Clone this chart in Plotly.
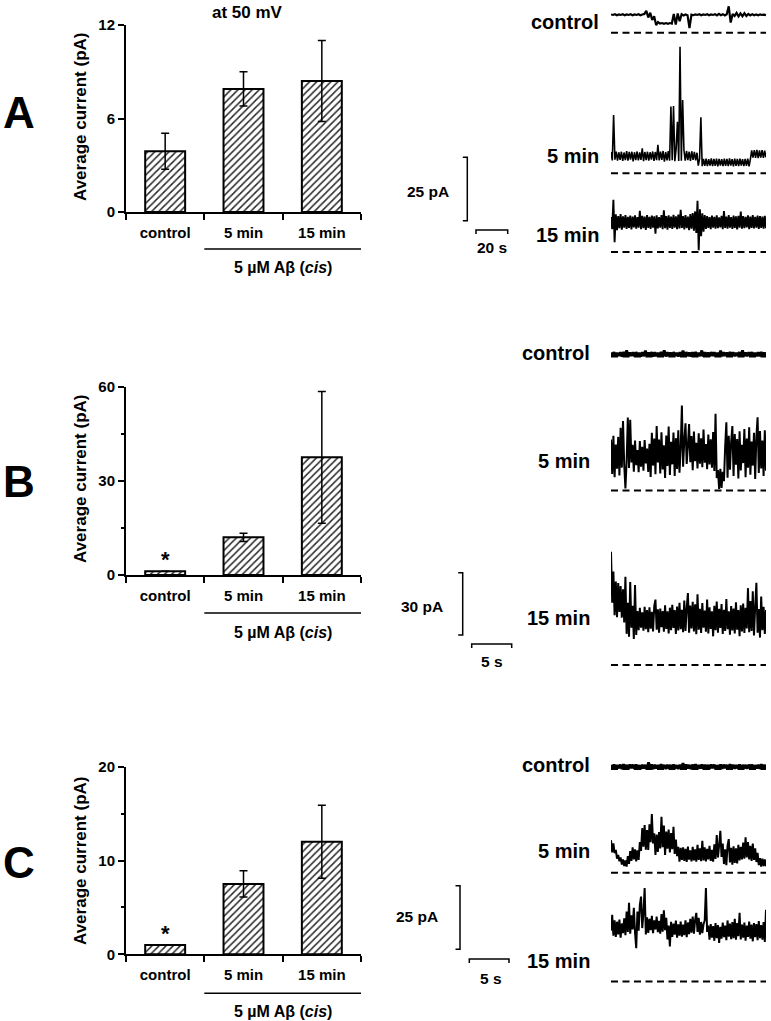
import numpy as np
import plotly.graph_objects as go

W, H = 771, 1021
FONT = "Liberation Sans, Arial, sans-serif"

# ---------------- bar chart data ----------------
categories = ["control", "5 min", "15 min"]
A_mean = [3.9, 7.9, 8.4]
A_err = [1.15, 1.1, 2.6]
B_mean = [1.2, 12.0, 37.5]
B_err = [None, 1.3, 21.0]
C_mean = [1.0, 7.5, 12.0]
C_err = [None, 1.4, 3.9]
A_ticks = [0, 6, 12]
B_ticks = [0, 30, 60]
B_minor = [15, 45]
C_ticks = [0, 10, 20]
C_minor = [5, 15]

# ---------------- current traces (pA) ----------------
A_control = [7.2, 7.0, 7.3, 6.9, 7.2, 7.0, 7.3, 6.9, 7.2, 7.0,
             7.3, 6.9, 7.2, 7.0, 7.3, 6.9, 7.2, 7.4, 8.6, 6.0,
             7.9, 5.0, 6.5, 3.0, 4.2, 3.6, 3.8, 3.5, 3.8, 3.5,
             3.8, 3.6, 7.4, 3.2, 7.6, 4.5, 7.3, 6.8, 7.2, 6.9,
             1.8, 7.1, 6.9, 7.2, 7.0, 7.3, 6.9, 7.2, 7.0, 7.3,
             6.9, 7.2, 7.0, 7.3, 6.8, 7.4, 6.9, 7.3, 6.8, 7.3,
             10.4, 4.0, 7.4, 6.6, 7.8, 6.4, 7.6, 6.5, 7.7, 6.6,
             7.4, 6.8, 7.3, 6.9, 7.2, 6.9, 7.2, 7.0, 7.1, 6.9]
A_5min = [8.4, 5.1, 23.0, 5.4, 8.6, 5.0, 8.3, 5.3, 8.5, 4.9,
          8.2, 5.2, 8.7, 5.0, 8.4, 5.4, 8.5, 4.7, 8.3, 5.2,
          8.6, 5.1, 8.2, 5.3, 9.8, 4.8, 8.4, 5.2, 8.5, 5.0,
          8.3, 5.4, 8.6, 4.9, 8.4, 5.2, 11.2, 5.1, 8.5, 5.3,
          8.8, 4.6, 8.4, 5.1, 8.7, 5.0, 26.3, 5.2, 26.5, 4.8,
          9.7, 20.3, 4.9, 49.9, 5.0, 28.9, 9.2, 5.0, 8.8, 5.2,
          8.5, 4.9, 8.7, 5.3, 8.4, 5.1, 8.1, 3.0, 5.8, 22.1,
          2.8, 5.7, 2.9, 5.8, 2.8, 5.6, 3.0, 5.9, 2.8, 5.7,
          2.9, 5.8, 2.7, 5.7, 3.0, 5.6, 2.8, 5.8, 2.9, 5.7,
          2.8, 5.9, 3.0, 5.6, 2.7, 5.8, 2.9, 5.7, 2.8, 5.8,
          3.0, 5.6, 2.8, 5.7, 2.9, 5.8, 2.7, 5.5, 9.0, 6.2,
          9.1, 6.1, 9.2, 6.0, 9.0, 6.2, 9.1, 6.1, 8.9, 6.3]
A_15min = [13.8, 9.0, 20.6, 3.9, 14.9, 8.6, 14.2, 9.4, 15.0, 8.8,
           14.1, 9.6, 14.6, 9.1, 13.9, 9.5, 14.4, 8.9, 14.0, 9.7,
           14.5, 9.2, 13.8, 9.6, 16.2, 9.0, 14.3, 9.4, 14.0, 8.7,
           14.6, 9.5, 13.9, 9.1, 14.4, 9.6, 14.1, 7.2, 14.5, 9.3,
           13.8, 9.6, 14.6, 9.0, 16.4, 9.4, 14.2, 8.8, 14.5, 9.5,
           14.0, 9.1, 14.7, 9.6, 14.1, 9.0, 14.8, 9.3, 16.6, 9.5,
           14.2, 8.9, 14.6, 9.4, 14.0, 8.6, 15.0, 9.2, 15.4, 8.4,
           16.0, 7.5, 20.2, 0.7, 16.8, 6.2, 15.3, 8.0, 14.6, 9.1,
           14.2, 9.5, 13.8, 9.0, 14.4, 9.6, 13.9, 9.2, 14.5, 9.4,
           13.7, 9.7, 14.3, 9.0, 16.1, 9.5, 14.0, 9.2, 14.6, 9.6,
           13.8, 9.1, 14.4, 9.5, 14.1, 8.9, 14.3, 9.6, 15.9, 9.2,
           14.2, 9.4, 13.9, 9.7, 14.5, 9.0, 14.0, 9.5, 14.6, 9.3,
           13.9, 9.6, 14.4, 9.1, 14.2, 9.5, 14.0, 9.2, 14.3, 9.4]

B_control = [1.9, 0.2, 2.1, 0.1, 1.8, 0.3, 2.0, 0.0, 2.2, 0.2,
             2.9, 0.1, 1.9, 0.3, 2.0, 0.1, 2.1, 0.2, 1.8, 0.0,
             2.0, 0.2, 2.8, 0.1, 1.9, 0.3, 2.1, 0.0, 2.0, 0.2,
             1.8, 0.1, 2.2, 0.3, 2.9, 0.0, 2.0, 0.2, 1.9, 0.1,
             2.1, 0.3, 1.8, 0.0, 2.0, 0.2, 2.8, 0.1, 2.1, 0.2,
             1.9, 0.0, 2.0, 0.3, 2.2, 0.1, 1.8, 0.2, 2.9, 0.0,
             2.0, 0.2, 1.9, 0.1, 2.1, 0.3, 2.0, 0.0, 1.8, 0.2,
             2.8, 0.1, 2.0, 0.3, 1.9, 0.0, 2.2, 0.2, 2.0, 0.1,
             1.8, 0.3, 2.1, 0.0, 2.9, 0.2, 1.9, 0.1, 2.0, 0.3,
             2.1, 0.0, 1.8, 0.2, 2.0, 0.1, 2.2, 0.3, 1.9, 0.2]
B_5min = [24.5, 8.0, 26.3, 6.4, 22.1, 10.5, 25.8, 7.2, 30.2, 11.0,
          33.5, 12.4, 1.0, 14.0, 35.1, 10.8, 34.0, 13.5, 22.0, 9.0,
          24.1, 12.2, 19.5, 8.8, 23.8, 11.5, 21.0, 9.5, 24.3, 13.0,
          20.2, 8.9, 22.5, 6.5, 27.8, 12.0, 25.0, 7.8, 31.0, 13.5,
          24.6, 8.2, 28.0, 10.1, 21.8, 6.0, 26.5, 11.8, 30.8, 7.5,
          23.5, 12.6, 27.9, 7.0, 25.2, 10.4, 29.0, 8.6, 20.4, 40.9,
          11.5, 24.0, 32.4, 12.8, 21.6, 32.0, 13.6, 26.2, 9.8, 28.4,
          14.1, 23.0, 10.6, 27.5, 12.9, 25.1, 11.2, 29.3, 13.4, 22.4,
          10.2, 27.0, 12.5, 24.6, 11.0, 28.1, 9.4, 36.9, 6.0, 9.8,
          0.8, 10.5, 1.2, 9.0, 4.5, 21.0, 32.8, 6.2, 26.4, 10.0,
          23.5, 31.0, 7.0, 27.2, 12.4, 24.8, 5.8, 28.5, 9.6, 22.0,
          13.2, 29.6, 6.4, 25.0, 11.0, 30.4, 7.6, 23.6, 12.0, 27.8,
          5.5, 26.0, 35.2, 8.4, 28.6, 10.6, 24.0, 7.0, 29.0, 9.5]
B_15min = [54.5, 30.0, 45.0, 24.0, 40.2, 23.0, 39.5, 25.5, 38.0, 22.8,
           36.5, 20.5, 42.5, 15.0, 30.0, 13.6, 40.0, 18.0, 28.5, 12.5,
           38.5, 14.5, 26.0, 16.8, 27.5, 18.0, 25.4, 16.5, 28.0, 17.2,
           26.5, 15.8, 27.8, 17.5, 25.6, 16.2, 28.4, 31.5, 17.0, 26.8,
           15.5, 27.2, 18.2, 26.0, 16.0, 28.8, 17.4, 25.8, 15.2, 27.6,
           16.8, 29.0, 17.8, 26.4, 15.0, 28.2, 16.6, 30.0, 17.2, 26.6,
           15.8, 31.0, 16.4, 27.4, 34.6, 15.6, 28.6, 17.6, 30.4, 16.2,
           29.2, 14.8, 34.0, 17.0, 27.0, 15.4, 29.8, 18.0, 26.2, 16.0,
           31.5, 15.2, 27.8, 17.4, 25.9, 13.8, 28.5, 16.8, 30.6, 15.6,
           27.0, 17.8, 29.4, 15.0, 26.6, 16.4, 31.8, 17.2, 25.8, 14.6,
           28.4, 16.6, 27.2, 15.2, 30.2, 17.0, 26.4, 13.9, 28.8, 16.2,
           29.6, 15.4, 27.6, 17.6, 37.0, 15.8, 30.8, 16.4, 35.5, 14.2,
           28.2, 39.6, 15.6, 27.0, 13.2, 33.0, 16.8, 28.0, 15.0, 26.5]

C_control = [1.6, 0.2, 1.8, 0.1, 1.5, 0.3, 1.7, 0.0, 1.9, 0.2,
             1.6, 0.1, 1.8, 0.3, 1.7, 0.1, 1.8, 0.2, 1.5, 0.0,
             1.7, 0.2, 1.6, 0.1, 2.6, 0.3, 1.8, 0.0, 1.7, 0.2,
             1.5, 0.1, 1.9, 0.3, 1.6, 0.0, 1.7, 0.2, 1.6, 0.1,
             1.8, 0.3, 1.5, 0.0, 1.7, 0.2, 2.3, 0.1, 1.8, 0.2,
             1.6, 0.0, 1.7, 0.3, 1.9, 0.1, 1.5, 0.2, 1.8, 0.0,
             1.7, 0.2, 1.6, 0.1, 1.8, 0.3, 1.7, 0.0, 1.5, 0.2,
             1.8, 0.1, 1.7, 0.3, 1.6, 0.0, 1.9, 0.2, 1.7, 0.1,
             1.5, 0.3, 1.8, 0.0, 1.6, 0.2, 1.6, 0.1, 1.7, 0.3,
             1.8, 0.0, 1.5, 0.2, 1.7, 0.1, 1.9, 0.3, 1.6, 0.2]
C_5min = [12.8, 8.0, 11.5, 7.7, 9.0, 5.5, 7.0, 4.5, 6.0, 3.2,
          5.2, 2.6, 4.8, 2.4, 6.5, 3.5, 8.5, 4.6, 10.0, 5.2,
          9.2, 4.4, 8.8, 5.0, 12.0, 8.6, 17.5, 10.2, 18.7, 9.0,
          16.8, 8.9, 19.0, 12.0, 23.1, 11.5, 15.5, 7.0, 15.0, 8.2,
          16.0, 9.5, 22.0, 10.0, 18.5, 7.0, 16.2, 9.4, 17.0, 8.0,
          15.6, 9.2, 18.0, 7.4, 13.0, 6.5, 10.2, 4.3, 9.8, 5.0,
          10.0, 4.6, 9.4, 4.2, 10.3, 5.1, 8.8, 4.4, 10.2, 4.8,
          9.2, 4.3, 11.0, 5.0, 9.6, 4.5, 12.5, 4.8, 10.0, 4.4,
          9.4, 5.2, 10.6, 4.6, 9.0, 4.3, 11.2, 5.4, 14.8, 6.0,
          10.8, 16.5, 6.2, 11.5, 3.4, 9.2, 3.0, 10.6, 13.2, 4.0,
          9.8, 3.2, 10.4, 3.8, 9.6, 3.6, 11.0, 4.8, 10.2, 5.2,
          11.8, 5.5, 13.9, 6.0, 12.0, 5.2, 10.6, 4.6, 11.4, 5.0,
          9.6, 4.2, 7.8, 3.0, 5.7, 2.4, 5.5, 2.6, 5.2, 2.5]
C_15min = [20.0, 26.2, 18.0, 24.0, 17.5, 23.5, 18.5, 24.3, 17.2, 22.8,
           19.0, 24.8, 18.2, 27.5, 19.5, 30.9, 18.8, 26.0, 20.5, 29.0,
           19.2, 13.1, 27.5, 20.0, 30.0, 33.4, 21.0, 27.0, 36.7, 18.5,
           25.2, 19.1, 24.6, 20.2, 25.8, 19.0, 24.0, 20.5, 25.5, 19.4,
           23.8, 18.8, 26.5, 19.6, 28.0, 20.2, 25.0, 16.5, 22.0, 13.8,
           23.5, 17.5, 22.8, 18.4, 23.9, 17.2, 22.5, 18.0, 23.6, 17.6,
           22.4, 18.2, 24.0, 17.4, 23.2, 18.6, 24.6, 19.2, 25.5, 18.8,
           24.2, 27.0, 19.5, 25.0, 18.4, 23.4, 19.0, 22.5, 24.0, 36.7,
           19.5, 22.0, 16.4, 22.6, 17.2, 21.8, 16.0, 23.0, 17.0, 22.2,
           15.2, 21.5, 16.8, 23.2, 17.4, 22.0, 16.2, 24.0, 17.6, 22.8,
           16.6, 23.4, 17.0, 24.6, 16.4, 23.0, 17.8, 27.0, 16.5, 22.4,
           17.2, 23.2, 16.0, 22.0, 17.5, 23.6, 16.8, 22.4, 15.8, 23.0,
           17.4, 22.6, 16.2, 23.8, 17.0, 22.2, 16.4, 23.4, 15.5, 28.2]

trace_labels = ["control", "5 min", "15 min"]
scale_A = (25, 20)   # pA, s
scale_B = (30, 5)
scale_C = (25, 5)

# ---------------- layout helpers ----------------
def px_x(px):
    return px / W

def px_y(py):
    return 1 - py / H

fig = go.Figure()
layout = dict(template="none", width=W, height=H, autosize=False,
              margin=dict(l=0, r=0, t=0, b=0, pad=0, autoexpand=False),
              paper_bgcolor="white", plot_bgcolor="rgba(0,0,0,0)", showlegend=False,
              font=dict(family=FONT, color="black"))
annotations = []
shapes = []
counter = [0]


def new_ids():
    counter[0] += 1
    i = counter[0]
    s = "" if i == 1 else str(i)
    return "x" + s, "y" + s, "xaxis" + s, "yaxis" + s


def ann(text, x, y, size, xanchor="center", yanchor="middle", angle=0, bold=True):
    annotations.append(dict(text=("<b>%s</b>" % text) if bold else text, x=px_x(x), y=px_y(y),
                            xref="paper", yref="paper", showarrow=False, xanchor=xanchor,
                            yanchor=yanchor, textangle=angle,
                            font=dict(family=FONT, size=size, color="black")))


# ---------------- bar charts ----------------
bar_panels = [
    dict(letter="A", mean=A_mean, err=A_err, ticks=A_ticks, minor=None, top=25, bot=212,
         letter_y=112.5, title_y=117, cat_line=249, cis_y=268, star=False),
    dict(letter="B", mean=B_mean, err=B_err, ticks=B_ticks, minor=B_minor, top=386.7, bot=575,
         letter_y=481, title_y=479, cat_line=613, cis_y=632, star=True),
    dict(letter="C", mean=C_mean, err=C_err, ticks=C_ticks, minor=C_minor, top=766.7, bot=954.3,
         letter_y=862, title_y=861, cat_line=993.3, cis_y=1011.7, star=True),
]
for p in bar_panels:
    xn, yn, xk, yk = new_ids()
    fig.add_trace(go.Bar(
        x=categories, y=p["mean"], width=0.51, xaxis=xn, yaxis=yn,
        error_y=dict(type="data", array=p["err"], color="black", thickness=1.5, width=4),
        marker=dict(color="white", line=dict(color="black", width=2),
                    pattern=dict(shape="/", fgcolor="#2a2a2a", bgcolor="white",
                                 size=5, solidity=0.3, fillmode="replace")),
    ))
    layout[xk] = dict(domain=[px_x(126), px_x(361)], anchor=yn, type="category",
                      range=[-0.5, 2.5], showline=True, linewidth=2, linecolor="black",
                      ticks="outside", tickson="boundaries", ticklen=6, tickwidth=2,
                      tickcolor="black", showgrid=False, zeroline=False, automargin=False,
                      ticklabelstandoff=6,
                      tickfont=dict(family=FONT, size=15, color="black", weight="bold"))
    yax = dict(domain=[px_y(p["bot"]), px_y(p["top"])], anchor=xn,
               range=[0, p["ticks"][-1]], tickvals=p["ticks"], showline=True, linewidth=2,
               linecolor="black", ticks="outside", ticklen=6, tickwidth=2, tickcolor="black",
               showgrid=False, zeroline=False, automargin=False,
               tickfont=dict(family=FONT, size=15, color="black", weight="bold"))
    if p["minor"]:
        yax["minor"] = dict(tickvals=p["minor"], ticks="outside", ticklen=3, tickwidth=2,
                            tickcolor="black", showgrid=False)
    layout[yk] = yax
    ann(p["letter"], 18.5, p["letter_y"], 44)
    ann("Average current (pA)", 80, p["title_y"], 17, angle=-90)
    shapes.append(dict(type="line", xref=xn, yref="paper", x0=0.5, x1=2.5,
                       y0=px_y(p["cat_line"]), y1=px_y(p["cat_line"]),
                       line=dict(color="black", width=1.5)))
    ann("5 \u00b5M A\u03b2 (<i>cis</i>)", 282.5, p["cis_y"], 16)
    if p["star"]:
        annotations.append(dict(text="<b>*</b>", x=categories[0], y=p["mean"][0],
                                xref=xn, yref=yn, showarrow=False, yanchor="bottom",
                                yshift=-3, font=dict(family=FONT, size=22, color="black")))

ann("at 50 mV", 247, 12, 17)

# ---------------- current traces ----------------
X0_PX, X1_PX = 611, 766
trace_panels = [
    dict(traces=[A_control, A_5min, A_15min], sx=1.585, sy=2.536,
         zeros=[32.7, 173.3, 252.0], label_y=[21.5, 155.5, 235.5], label_x=600.7,
         widths=[2.2, 1.6, 1.9], scale=scale_A, vx=467.3, vbot=220.7, hx0=476, hy=230,
         lab1=(450.7, 191.7), lab2=(492.3, 247.3)),
    dict(traces=[B_control, B_5min, B_15min], sx=8.0, sy=2.077,
         zeros=[356.5, 490.5, 665.0], label_y=[353.3, 460.7, 617.5], label_x=592.3,
         widths=[2.8, 2.0, 2.0], scale=scale_B, vx=462.7, vbot=635, hx0=471.7, hy=644,
         lab1=(445, 606.7), lab2=(492, 661.7)),
    dict(traces=[C_control, C_5min, C_15min], sx=7.94, sy=2.544,
         zeros=[769.0, 872.7, 981.5], label_y=[765, 851.3, 960.5], label_x=592.3,
         widths=[2.8, 2.0, 2.0], scale=scale_C, vx=460, vbot=949.3, hx0=469.3, hy=959,
         lab1=(440, 916.7), lab2=(491.3, 978.3)),
]

for tp in trace_panels:
    dur = (X1_PX - X0_PX) / tp["sx"]
    for vals, zero, lab_y, lw, lab in zip(tp["traces"], tp["zeros"], tp["label_y"],
                                          tp["widths"], trace_labels):
        xn, yn, xk, yk = new_ids()
        top_px = max(1.0, zero - max(vals) * tp["sy"] - 8)
        bot_px = zero + 8
        layout[xk] = dict(domain=[px_x(X0_PX), px_x(X1_PX)], range=[0, dur], visible=False,
                          anchor=yn, fixedrange=True, automargin=False)
        layout[yk] = dict(domain=[px_y(bot_px), px_y(top_px)],
                          range=[-(bot_px - zero) / tp["sy"], (zero - top_px) / tp["sy"]],
                          visible=False, anchor=xn, fixedrange=True, automargin=False)
        fig.add_trace(go.Scatter(x=[0, dur], y=[0, 0], mode="lines", xaxis=xn, yaxis=yn,
                                 line=dict(color="black", width=2, dash="7px,4.5px")))
        t = np.linspace(0, dur, len(vals))
        fig.add_trace(go.Scatter(x=t, y=vals, mode="lines", xaxis=xn, yaxis=yn,
                                 line=dict(color="black", width=lw, simplify=False)))
        ann(lab, tp["label_x"], lab_y, 20, xanchor="right")

    # scale bars
    amp, secs = tp["scale"]
    xn, yn, xk, yk = new_ids()
    bx0, bx1 = tp["vx"] - 15, tp["hx0"] + secs * tp["sx"] + 15
    by0, by1 = tp["vbot"] - amp * tp["sy"] - 10, tp["hy"] + 10
    layout[xk] = dict(domain=[px_x(bx0), px_x(bx1)], range=[0, (bx1 - bx0) / tp["sx"]],
                      visible=False, anchor=yn, fixedrange=True, automargin=False)
    layout[yk] = dict(domain=[px_y(by1), px_y(by0)], range=[0, (by1 - by0) / tp["sy"]],
                      visible=False, anchor=xn, fixedrange=True, automargin=False)
    vx = (tp["vx"] - bx0) / tp["sx"]
    vy0 = (by1 - tp["vbot"]) / tp["sy"]
    serif_t = 4.5 / tp["sx"]
    fig.add_trace(go.Scatter(x=[vx - serif_t, vx, vx, vx - serif_t],
                             y=[vy0 + amp, vy0 + amp, vy0, vy0], mode="lines",
                             xaxis=xn, yaxis=yn, line=dict(color="black", width=1.5)))
    hx = (tp["hx0"] - bx0) / tp["sx"]
    hy = (by1 - tp["hy"]) / tp["sy"]
    serif_a = 4.0 / tp["sy"]
    fig.add_trace(go.Scatter(x=[hx, hx, hx + secs, hx + secs],
                             y=[hy - serif_a, hy, hy, hy - serif_a], mode="lines",
                             xaxis=xn, yaxis=yn, line=dict(color="black", width=1.5)))
    ann("%d pA" % amp, tp["lab1"][0], tp["lab1"][1], 15.5, xanchor="right")
    ann("%d s" % secs, tp["lab2"][0], tp["lab2"][1], 15.5)

for tr in fig.data:
    tr.hoverinfo = "skip"

layout["annotations"] = annotations
layout["shapes"] = shapes
fig.update_layout(**layout)
fig.write_html("out.html", config=dict(displayModeBar=False, staticPlot=True),
               post_script="document.body.style.margin='0px';document.body.style.overflow='hidden';")
